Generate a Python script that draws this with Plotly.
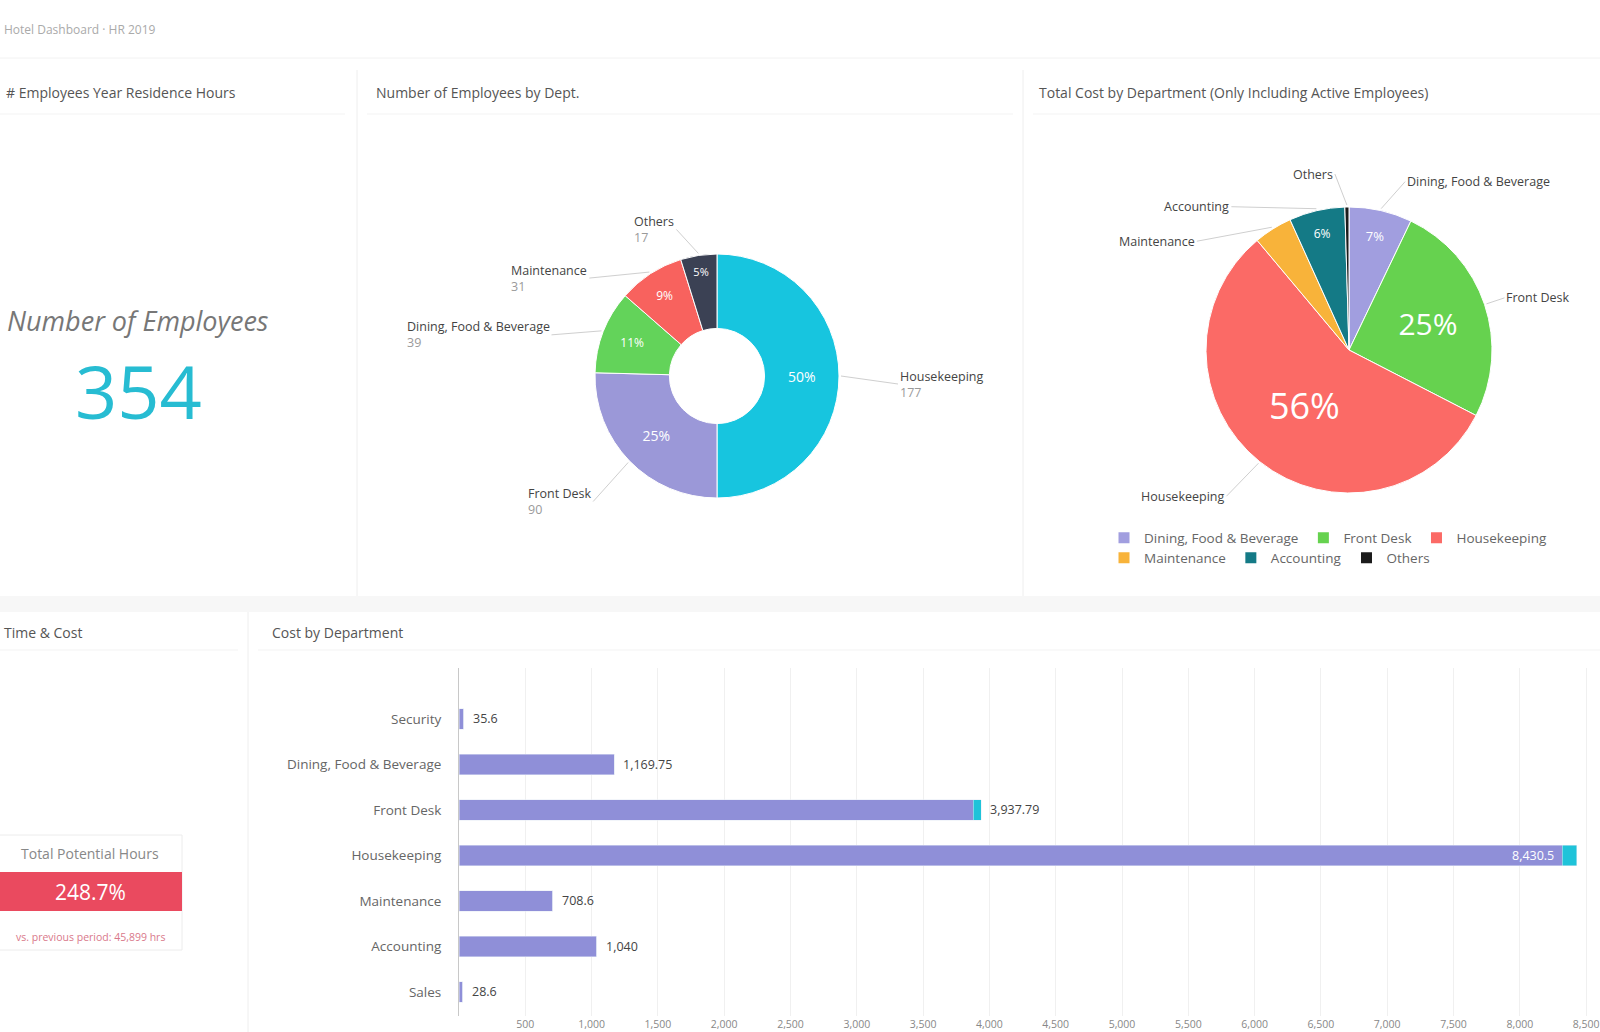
import math
import plotly.graph_objects as go

W, H = 1600, 1032

def px(x):
    return x / W

def py(y):
    return 1 - y / H

# ---------------- data ----------------
header_text = "Hotel Dashboard · HR 2019"
panel_titles = ["# Employees Year Residence Hours", "Number of Employees by Dept.",
                "Total Cost by Department (Only Including Active Employees)",
                "Time & Cost", "Cost by Department"]

kpi_label = "Number of Employees"
kpi_value = 354

donut_labels = ["Housekeeping", "Front Desk", "Dining, Food & Beverage", "Maintenance", "Others"]
donut_values = [177, 90, 39, 31, 17]

pie_labels = ["Dining, Food & Beverage", "Front Desk", "Housekeeping", "Maintenance", "Accounting", "Others"]
pie_values = [1075, 3840, 8500, 655, 950, 70]

bar_categories = ["Security", "Dining, Food & Beverage", "Front Desk", "Housekeeping",
                  "Maintenance", "Accounting", "Sales"]
bar_primary = [35.6, 1169.75, 3877.79, 8320.5, 708.6, 1040, 28.6]
bar_secondary = [0, 0, 60, 110, 0, 0, 0]
bar_ticks = [500, 1000, 1500, 2000, 2500, 3000, 3500, 4000, 4500,
             5000, 5500, 6000, 6500, 7000, 7500, 8000, 8500]

card_label = "Total Potential Hours"
card_value = "248.7%"
card_note = "vs. previous period: 45,899 hrs"

# ---------------- styles ----------------
FONT = "Open Sans"
donut_colors = ["#17c5df", "#9b98d8", "#63d35a", "#f8625e", "#3b4154"]
pie_colors = ["#a19edf", "#66d24f", "#fb6a66", "#f8b33a", "#147a86", "#1b1b1b"]
bar_color = "#8f8fd8"
bar_cap_color = "#1fc3d9"

fig = go.Figure()

# donut
d_cx, d_cy, d_r = 717, 376, 122
fig.add_trace(go.Pie(
    labels=donut_labels, values=donut_values, hole=0.39, sort=False,
    direction="clockwise", rotation=0,
    marker=dict(colors=donut_colors, line=dict(color="white", width=1)),
    textposition="inside", insidetextorientation="horizontal",
    texttemplate="%{percent:.0%}",
    insidetextfont=dict(color="white", size=[14, 14, 12, 12, 11], family=FONT),
    domain=dict(x=[px(d_cx - d_r), px(d_cx + d_r)], y=[py(d_cy + d_r), py(d_cy - d_r)]),
    showlegend=False, hoverinfo="label+value+percent",
))

# pie
p_cx, p_cy, p_r = 1349, 350, 143
fig.add_trace(go.Pie(
    labels=pie_labels, values=pie_values, sort=False,
    direction="clockwise", rotation=0,
    marker=dict(colors=pie_colors, line=dict(color="white", width=1)),
    textposition="inside", insidetextorientation="horizontal",
    texttemplate=["%{percent:.0%}", "%{percent:.0%}", "%{percent:.0%}", "", "%{percent:.0%}", ""],
    insidetextfont=dict(color="white", size=[13, 30, 36, 10, 12, 10], family=FONT),
    domain=dict(x=[px(p_cx - p_r), px(p_cx + p_r)], y=[py(p_cy + p_r), py(p_cy - p_r)]),
    showlegend=False, hoverinfo="label+value+percent",
))

# bars
fig.add_trace(go.Bar(
    y=bar_categories, x=bar_primary, orientation="h", marker=dict(color=bar_color),
    width=0.45, showlegend=False, name="Cost",
))
fig.add_trace(go.Bar(
    y=bar_categories, x=bar_secondary, orientation="h", marker=dict(color=bar_cap_color),
    width=0.45, showlegend=False, name="Overtime",
))

# legend entries for the pie (two rows)
for i, (lab, col) in enumerate(zip(pie_labels, pie_colors)):
    fig.add_trace(go.Scatter(
        x=[None], y=[None], mode="markers", name=lab,
        marker=dict(symbol="square", size=11, color=col),
        legend="legend" if i < 3 else "legend2", hoverinfo="skip",
    ))

x_max = (W - 459) / 66.3 * 500

bar_totals = [a + b for a, b in zip(bar_primary, bar_secondary)]
annotations = []
for cat, prim, tot in zip(bar_categories, bar_primary, bar_totals):
    label = f"{tot:,.2f}".rstrip("0").rstrip(".")
    if tot > x_max * 0.95:
        # not enough room at the right edge: put the value inside the bar end
        annotations.append(dict(
            x=prim, y=cat, xref="x", yref="y", text=label, showarrow=False,
            xanchor="right", yanchor="middle", xshift=-6,
            font=dict(size=12.5, color="white", family=FONT)))
    else:
        annotations.append(dict(
            x=tot, y=cat, xref="x", yref="y", text=label, showarrow=False,
            xanchor="left", yanchor="middle", xshift=7,
            font=dict(size=12.5, color="#444", family=FONT)))

# slice label annotations with leader lines
def slice_tips(values, cx, cy, r):
    total = sum(values)
    cum = 0
    tips = []
    for v in values:
        mid = (cum + v / 2) / total * 2 * math.pi
        cum += v
        tips.append((cx + r * math.sin(mid), cy - r * math.cos(mid)))
    return tips

donut_offsets = [(57, 8, "left"), (-35, 39, "right"), (-50, 4, "right"),
                 (-60, 6, "right"), (-22, -24, "right")]
for (tx, ty), lab, val, (ax, ay, anc) in zip(slice_tips(donut_values, d_cx, d_cy, d_r + 2),
                                            donut_labels, donut_values, donut_offsets):
    annotations.append(dict(
        x=px(tx), y=py(ty), xref="paper", yref="paper", ax=ax, ay=ay,
        text=f"{lab}<br><span style='color:#9a9a9a'>{val}</span>",
        showarrow=True, arrowhead=0, arrowwidth=1, arrowcolor="#cfcfcf",
        xanchor=anc, align="left", font=dict(size=12.5, color="#444", family=FONT),
    ))

pie_offsets = [(24, -27, "left"), (18, -6, "left"), (-32, 33, "right"),
               (-75, 14, "right"), (-85, -2, "right"), (-12, -31, "right")]
for (tx, ty), lab, (ax, ay, anc) in zip(slice_tips(pie_values, p_cx, p_cy, p_r + 2),
                                       pie_labels, pie_offsets):
    annotations.append(dict(
        x=px(tx), y=py(ty), xref="paper", yref="paper", ax=ax, ay=ay,
        text=lab, showarrow=True, arrowhead=0, arrowwidth=1, arrowcolor="#cfcfcf",
        xanchor=anc, font=dict(size=12.5, color="#444", family=FONT),
    ))

def text_at(x, y, text, size, color, xanchor="center", style="normal"):
    annotations.append(dict(x=px(x), y=py(y), xref="paper", yref="paper", text=text,
                            showarrow=False, xanchor=xanchor, yanchor="middle",
                            font=dict(size=size, color=color, family=FONT, style=style)))

# header and panel titles
text_at(2, 29, header_text, 12, "#aaa", "left")
title_pos = [(238, 93, "right"), (374, 93, "left"), (1037, 93, "left"), (2, 632, "left"), (270, 632, "left")]
for t, (x, y, anc) in zip(panel_titles, title_pos):
    text_at(x, y, t, 14, "#555", anc)

# KPI
text_at(138, 320, kpi_label, 27, "#777", style="italic")
text_at(138, 390, str(kpi_value), 74, "#27bcd2")

# card
text_at(90, 853, card_label, 14, "#888")
text_at(90, 892, card_value, 21, "white")
text_at(90, 937, card_note, 10.5, "#d9788a")

shapes = []
def line(x0, y0, x1, y1, color="#eeeeee", width=1):
    shapes.append(dict(type="line", xref="paper", yref="paper", x0=px(x0), y0=py(y0),
                       x1=px(x1), y1=py(y1), line=dict(color=color, width=width), layer="below"))

line(0, 58, 1600, 58, "#f2f2f2")
shapes.append(dict(type="rect", xref="paper", yref="paper", x0=0, x1=1, y0=py(612), y1=py(596),
                   fillcolor="#f7f7f7", line=dict(width=0), layer="below"))
line(357, 70, 357, 596)
line(1023, 70, 1023, 596)
line(248, 612, 248, 1032)
line(0, 114, 345, 114, "#f3f3f3")
line(367, 114, 1013, 114, "#f3f3f3")
line(1033, 114, 1600, 114, "#f3f3f3")
line(0, 650, 238, 650, "#f3f3f3")
line(258, 650, 1600, 650, "#f3f3f3")
# card frame and value box
shapes.append(dict(type="rect", xref="paper", yref="paper", x0=px(-2), x1=px(182), y0=py(950), y1=py(835),
                   line=dict(color="#ececec", width=1), fillcolor="rgba(0,0,0,0)"))
shapes.append(dict(type="rect", xref="paper", yref="paper", x0=px(-2), x1=px(182), y0=py(911), y1=py(872),
                   line=dict(width=0), fillcolor="#ea4a5f"))

legend_common = dict(orientation="h", x=px(1104), xanchor="left", yanchor="middle",
                     traceorder="normal", font=dict(size=13.5, color="#666", family=FONT),
                     bgcolor="rgba(0,0,0,0)", itemwidth=30)

fig.update_layout(
    width=W, height=H, margin=dict(l=0, r=0, t=0, b=0),
    paper_bgcolor="white", plot_bgcolor="white",
    font=dict(family=FONT, color="#555"),
    barmode="stack",
    annotations=annotations, shapes=shapes,
    xaxis=dict(domain=[px(459), 1.0], range=[0, x_max], tickvals=bar_ticks, tickformat=",d",
               showgrid=True, gridcolor="#f0f0f0", zeroline=False, showline=False,
               tickfont=dict(size=10.5, color="#888"), fixedrange=True),
    yaxis=dict(type="category", domain=[py(1016), py(668)], categoryorder="array",
               categoryarray=bar_categories, range=[6.53, -1.12], showline=True,
               linecolor="#c8c8c8", showgrid=False, ticklabelstandoff=14,
               tickfont=dict(size=13.5, color="#666"), fixedrange=True),
    legend=dict(y=py(538), **legend_common),
    legend2=dict(y=py(558), **legend_common),
)

fig.write_html("out.html")
